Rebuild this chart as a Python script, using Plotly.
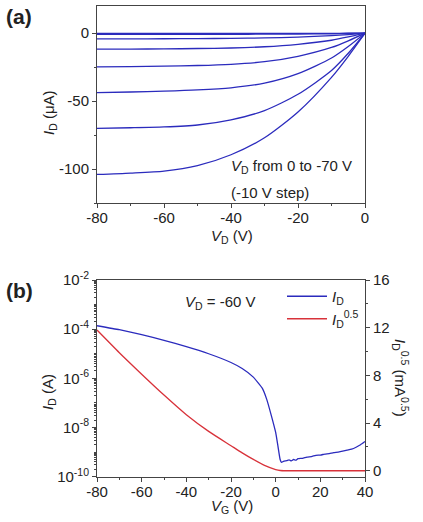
import plotly.graph_objects as go

# ---------- data: panel (a) output curves ----------
vd = [-80, -70, -60, -50, -40, -30, -20, -10, -5, 0]
vg_steps = [0, -10, -20, -30, -40, -50, -60, -70]
id_vg0 = [-0.2, -0.2, -0.2, -0.2, -0.2, -0.2, -0.15, -0.1, -0.05, 0]
id_vg10 = [-0.9, -0.9, -0.85, -0.85, -0.8, -0.75, -0.65, -0.45, -0.25, 0]
id_vg20 = [-4.2, -4.15, -4.1, -4.0, -3.85, -3.5, -2.9, -1.8, -1.0, 0]
id_vg30 = [-11.8, -11.7, -11.6, -11.3, -10.9, -10.0, -8.2, -5.2, -2.8, 0]
id_vg40 = [-24.8, -24.6, -24.3, -23.8, -22.9, -21.0, -17.0, -10.5, -5.6, 0]
id_vg50 = [-43.7, -43.3, -42.7, -41.8, -40.2, -36.8, -29.8, -18.3, -9.8, 0]
id_vg60 = [-70.0, -69.6, -69.0, -67.6, -63.8, -57.0, -45.0, -27.5, -14.8, 0]
id_vg70 = [-104.0, -103.0, -101.5, -97.5, -89.5, -77.0, -58.0, -32.5, -17.0, 0]
output_curves = [id_vg0, id_vg10, id_vg20, id_vg30, id_vg40, id_vg50, id_vg60, id_vg70]

# ---------- data: panel (b) transfer curve ----------
vg = [-80, -70, -60, -50, -40, -30, -20, -15, -10, -6, -4, -2, 0, 1, 2, 2.6,
      3.5, 5, 6, 7, 8, 9, 10, 12, 14, 16, 18, 20, 22, 24, 26, 28, 30, 32, 34, 36, 38, 40]
id_log = [1.38e-4, 9.5e-5, 6.0e-5, 3.5e-5, 1.95e-5, 1.0e-5, 4.4e-6, 2.5e-6, 1.12e-6,
          4.0e-7, 1.4e-7, 3.2e-8, 6.3e-9, 1.8e-9, 5.0e-10, 3.8e-10,
          4.2e-10, 4.5e-10, 4.8e-10, 4.4e-10, 5.0e-10, 4.7e-10, 5.4e-10, 5.6e-10,
          6.3e-10, 6.6e-10, 7.4e-10, 7.6e-10, 8.3e-10, 8.7e-10, 9.5e-10, 1.0e-9,
          1.1e-9, 1.2e-9, 1.32e-9, 1.58e-9, 2.0e-9, 2.7e-9]
vg_sqrt = [-80, -70, -60, -50, -40, -30, -20, -15, -10, -5, 0, 2, 5, 40]
id_sqrt = [11.8, 9.9, 8.1, 6.35, 4.7, 3.3, 2.1, 1.5, 0.95, 0.45, 0.1, 0.02, 0.0, 0.0]

# ---------- tick labels ----------
xa_ticks = [-80, -60, -40, -20, 0]
xa_labels = ["-80", "-60", "-40", "-20", "0"]
ya_ticks = [-100, -50, 0]
ya_labels = ["-100", "-50", "0"]
xb_ticks = [-80, -60, -40, -20, 0, 20, 40]
xb_labels = ["-80", "-60", "-40", "-20", "0", "20", "40"]
yb_ticks = [1e-10, 1e-8, 1e-6, 1e-4, 1e-2]
yb_labels = ["10<sup>-10</sup>", "10<sup>-8</sup>", "10<sup>-6</sup>", "10<sup>-4</sup>", "10<sup>-2</sup>"]
yr_ticks = [0, 4, 8, 12, 16]

BLUE = "#2b2bbd"
RED = "#d8323a"
FONT = "Liberation Sans, Arial, sans-serif"
W, H = 423, 522


def px_x(p):
    return p / W


def px_y(p):
    return 1 - p / H


fig = go.Figure()

for curve in output_curves:
    fig.add_trace(go.Scatter(x=vd, y=curve, mode="lines",
                             line=dict(color=BLUE, width=1.3, shape="spline", smoothing=0.7),
                             showlegend=False, xaxis="x", yaxis="y"))

fig.add_trace(go.Scatter(x=vg, y=id_log, mode="lines", name="<i>I</i><sub>D</sub>",
                         line=dict(color=BLUE, width=1.3, shape="spline", smoothing=0.4),
                         xaxis="x2", yaxis="y2"))
fig.add_trace(go.Scatter(x=vg_sqrt, y=id_sqrt, mode="lines", name="<i>I</i><sub>D</sub><sup>0.5</sup>",
                         line=dict(color=RED, width=1.3, shape="spline", smoothing=0.6), xaxis="x2", yaxis="y3"))

axis_common = dict(showline=True, linecolor="#444", linewidth=1, ticks="outside", ticklen=4, tickcolor="#444",
                   showgrid=False, zeroline=False, automargin=False,
                   tickfont=dict(family=FONT, size=15, color="#222"))
minor_common = dict(ticks="outside", ticklen=2, tickcolor="#444")

xdom = [px_x(97), px_x(365)]
fig.update_layout(
    width=W, height=H, margin=dict(l=0, r=0, t=0, b=0),
    paper_bgcolor="white", plot_bgcolor="white",
    font=dict(family=FONT, size=15, color="#222"),
    xaxis=dict(domain=xdom, anchor="y", range=[-80, 0], tickvals=xa_ticks, ticktext=xa_labels, mirror=True,
               ticklabelstandoff=-3, minor=dict(dtick=10, **minor_common), **axis_common),
    yaxis=dict(domain=[px_y(203), px_y(6)], anchor="x", range=[-125, 20], tickvals=ya_ticks, ticktext=ya_labels,
               mirror=True, minor=dict(tickvals=[-125, -75, -25], **minor_common), **axis_common),
    xaxis2=dict(domain=xdom, anchor="y2", range=[-80, 40], tickvals=xb_ticks, ticktext=xb_labels, mirror=True,
                ticklabelstandoff=-3, minor=dict(dtick=10, **minor_common), **axis_common),
    yaxis2=dict(domain=[px_y(476.7), px_y(280)], anchor="x2", type="log", range=[-10, -2],
                tickvals=yb_ticks, ticktext=yb_labels,
                minor=dict(dtick="D1", **minor_common), **axis_common),
    yaxis3=dict(overlaying="y2", side="right", anchor="x2", range=[-0.5, 16], tickvals=yr_ticks,
                minor=dict(dtick=2, **minor_common), **axis_common),
    legend=dict(x=px_x(282), y=px_y(280), xanchor="left", yanchor="top", bgcolor="rgba(0,0,0,0)",
                font=dict(family=FONT, size=15, color="#222"), tracegroupgap=0, itemwidth=40),
)


def ann(text, x, y, xanchor="center", yanchor="middle", size=15, angle=0, bold=False):
    fig.add_annotation(text=("<b>%s</b>" % text) if bold else text, x=px_x(x), y=px_y(y),
                       xref="paper", yref="paper", xanchor=xanchor, yanchor=yanchor, showarrow=False,
                       textangle=angle, font=dict(family=FONT, size=size, color="#222"))


ann("(a)", 4, 16, xanchor="left", size=21, bold=True)
ann("(b)", 4, 290, xanchor="left", size=21, bold=True)
ann("<i>I</i><sub>D</sub> (μA)", 49, 113, angle=-90)
ann("<i>V</i><sub>D</sub> (V)", 232, 236)
ann("<i>V</i><sub>D</sub> from 0 to -70 V", 229, 166, xanchor="left")
ann("(-10 V step)", 229, 192, xanchor="left")
ann("<i>I</i><sub>D</sub> (A)", 48, 392, angle=-90)
ann("<i>V</i><sub>G</sub> (V)", 232, 506)
ann("<i>V</i><sub>D</sub> = -60 V", 183, 302, xanchor="left")
ann("<i>I</i><sub>D</sub><sup>0.5</sup> (mA<sup>0.5</sup>)", 401, 378, angle=90)

fig.write_html("out.html")
